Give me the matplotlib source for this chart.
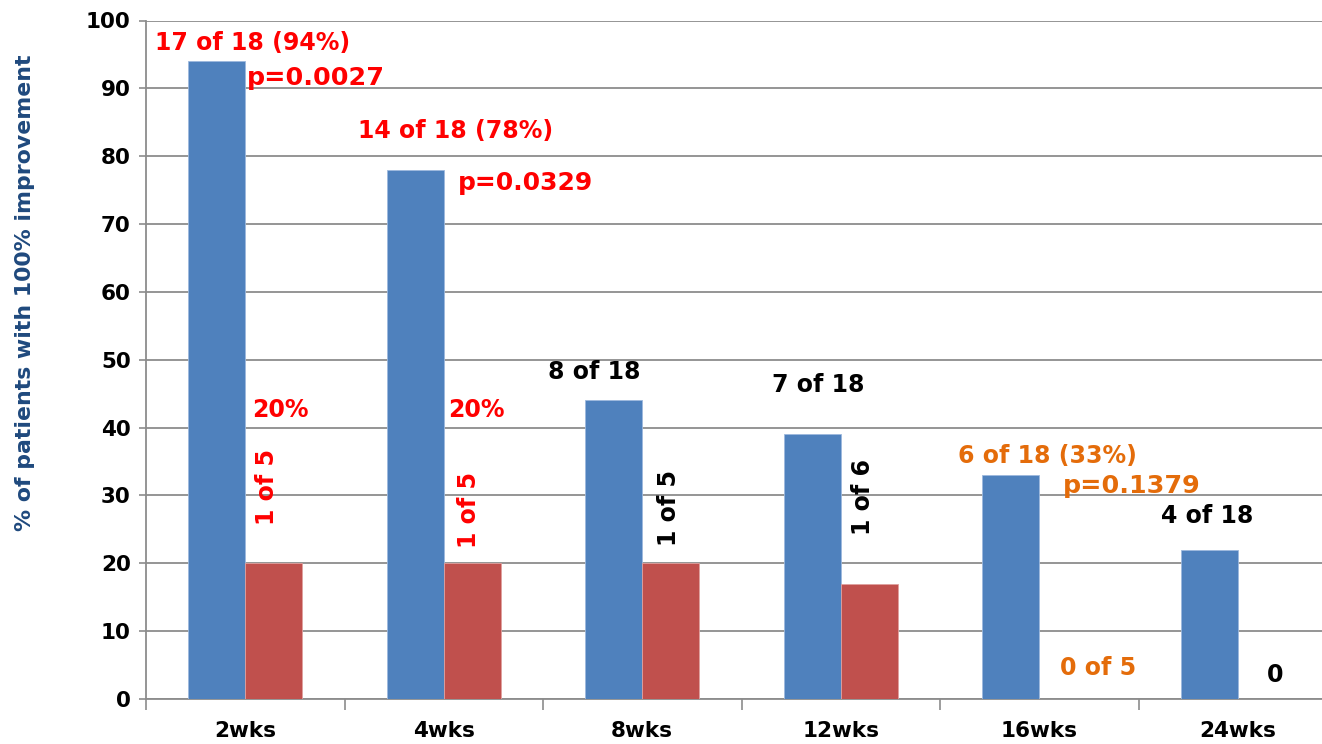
import matplotlib
matplotlib.use("Agg")
import matplotlib.pyplot as plt
import numpy as np

categories = ["2wks", "4wks", "8wks", "12wks", "16wks", "24wks"]
treated = [94, 78, 44, 39, 33, 22]
control = [20, 20, 20, 17, 0, 0]
y_ticks = list(range(0, 101, 10))
y_label = "% of patients with 100% improvement"

RED = "#FF0000"
ORANGE = "#E46C0A"
BLACK = "#000000"

# (text, x, y, color, size, ha, rotation, va)
annotations = [
    ("17 of 18 (94%)", 0.039, 95.65, RED, 17, "center", 0, "baseline"),
    ("p=0.0027", 0.009, 90.5, RED, 18.3, "left", 0, "baseline"),
    ("14 of 18 (78%)", 1.057, 82.7, RED, 17, "center", 0, "baseline"),
    ("p=0.0329", 1.072, 75.0, RED, 18, "left", 0, "baseline"),
    ("8 of 18", 1.757, 47.2, BLACK, 17, "center", 0, "baseline"),
    ("7 of 18", 2.885, 45.2, BLACK, 17, "center", 0, "baseline"),
    ("6 of 18 (33%)", 4.039, 34.8, ORANGE, 17, "center", 0, "baseline"),
    ("p=0.1379", 4.12, 30.4, ORANGE, 18.3, "left", 0, "baseline"),
    ("4 of 18", 4.845, 25.9, BLACK, 17, "center", 0, "baseline"),
    ("0 of 5", 4.296, 3.5, ORANGE, 17, "center", 0, "baseline"),
    ("0", 5.188, 2.5, BLACK, 17, "center", 0, "baseline"),
    ("20%", 0.034, 41.6, RED, 17, "left", 0, "baseline"),
    ("20%", 1.021, 41.6, RED, 17, "left", 0, "baseline"),
    ("1 of 5", 0.112, 31.2, RED, 17, "center", 90, "center"),
    ("1 of 5", 1.127, 27.9, RED, 17, "center", 90, "center"),
    ("1 of 5", 2.135, 28.2, BLACK, 17, "center", 90, "center"),
    ("1 of 6", 3.112, 29.8, BLACK, 17, "center", 90, "center"),
]

plt.rcParams['font.family'] = ['DejaVu Sans']
fig = plt.figure(figsize=(13.22, 7.44), dpi=100)
W, H = 1322, 744
left_px, right_px, top_px, bot_px = 146, 146 + 6 * 198.5, 20.5, 699
ax = fig.add_axes([left_px / W, 1 - bot_px / H, (right_px - left_px) / W, (bot_px - top_px) / H])

x = np.arange(len(categories))
bw = 0.287
ax.bar(x - bw / 2, treated, bw, color="#4F81BD", edgecolor="#9DB9DD", linewidth=0.6, zorder=3)
ax.bar(x + bw / 2, control, bw, color="#C0504D", edgecolor="#E0A09E", linewidth=0.6, zorder=3)

ax.set_xlim(-0.5, len(categories) - 0.5)
ax.set_ylim(0, 100)
ax.set_yticks(y_ticks)
ax.set_yticklabels([str(v) for v in y_ticks], fontsize=15.5, fontweight="bold")
ax.set_xticks(x)
ax.set_xticklabels(categories, fontsize=15.5, fontweight="bold")
ax.set_xticks(np.arange(-0.5, len(categories), 1), minor=True)
ax.tick_params(axis="x", which="major", length=0, pad=16)
ax.tick_params(axis="x", which="minor", length=8, color="#8C8C8C", width=1.2)
ax.tick_params(axis="y", length=5, color="#8C8C8C", width=1.2, pad=6)
ax.yaxis.grid(True, color="#8C8C8C", linewidth=1.3, zorder=0)
ax.set_axisbelow(True)
for s in ["top", "right"]:
    ax.spines[s].set_visible(False)
for s in ["left", "bottom"]:
    ax.spines[s].set_color("#8C8C8C")
    ax.spines[s].set_linewidth(1.3)

fig.text(25 / W, 1 - 293 / H, y_label, rotation=90, ha="center", va="center",
         fontsize=15.8, fontweight="bold", color="#1F497D")

for t, tx, ty, c, fs, ha, rot, va in annotations:
    ax.text(tx, ty, t, color=c, fontsize=fs, fontweight="bold", ha=ha, va=va,
            rotation=rot, zorder=5, clip_on=False)

fig.savefig("out.png", dpi=100)
